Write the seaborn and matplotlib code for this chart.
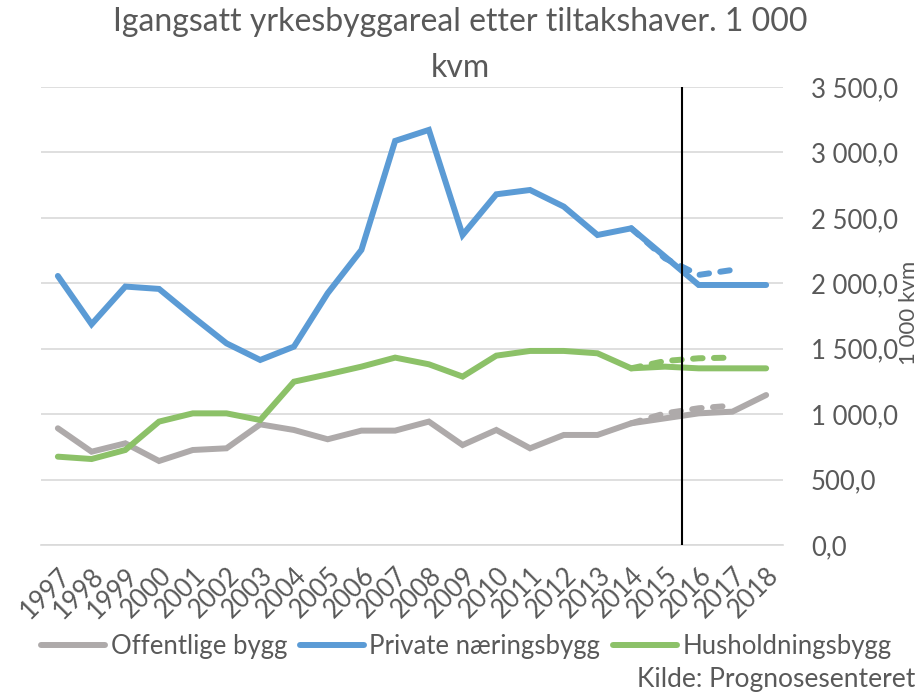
import pandas as pd
import numpy as np
import matplotlib
matplotlib.use("Agg")
import matplotlib.pyplot as plt
import seaborn as sns
from matplotlib.ticker import FuncFormatter, FixedLocator

years = [str(y) for y in range(1997, 2019)]

offentlige = [892, 713, 777, 642, 726, 739, 922, 879, 808, 874, 874,
              943, 764, 879, 739, 841, 841, 930, 968, 1006, 1019, 1146]
private = [2056, 1687, 1975, 1957, 1745, 1541, 1414, 1516, 1924, 2255, 3088,
           3172, 2369, 2680, 2713, 2586, 2369, 2420, 2204, 1987, 1987, 1987]
husholdning = [675, 657, 726, 943, 1006, 1006, 955, 1248, 1304, 1363, 1432,
               1381, 1287, 1447, 1483, 1483, 1465, 1350, 1363, 1350, 1350, 1350]

# earlier forecast (dashed), 2014-2017
prog_years = ["2014", "2015", "2016", "2017"]
prog_offentlige = [930, 1006, 1045, 1065]
prog_private = [2420, 2191, 2064, 2102]
prog_husholdning = [1350, 1406, 1427, 1432]

series = ["Offentlige bygg", "Private næringsbygg", "Husholdningsbygg"]
colors = ["#AEAAAA", "#5B9BD5", "#8CC168"]

df = pd.DataFrame({
    "pos": list(range(len(years))) * 3,
    "verdi": offentlige + private + husholdning,
    "serie": [s for s in series for _ in years],
})
p0 = years.index(prog_years[0])
dfp = pd.DataFrame({
    "pos": list(range(p0, p0 + len(prog_years))) * 3,
    "verdi": prog_offentlige + prog_private + prog_husholdning,
    "serie": [s for s in series for _ in prog_years],
})

sns.set_style("white")
plt.rcParams["font.family"] = ["Lato", "DejaVu Sans"]
txt = "#595959"

fig = plt.figure(figsize=(9.2, 6.97), dpi=100)
ax = fig.add_axes([41 / 920, 1 - 545 / 697, 742 / 920, 458 / 697])

sns.lineplot(data=dfp, x="pos", y="verdi", hue="serie", palette=colors, hue_order=series,
             ax=ax, lw=4.3, legend=False, linestyle=(0, (1.6, 1.9)),
             dash_capstyle="round")
sns.lineplot(data=df, x="pos", y="verdi", hue="serie", palette=colors, hue_order=series,
             ax=ax, lw=4.3, solid_capstyle="round", solid_joinstyle="miter")

ax.axvline(18.5, color="black", lw=1.5, zorder=5)

ax.set_xlim(-0.5, len(years) - 0.5)
ax.set_ylim(0, 3500)
ax.set_yticks(np.arange(0, 3501, 500))
ax.yaxis.set_major_formatter(FuncFormatter(lambda v, p: f"{v:,.1f}".replace(",", " ").replace(".", ",")))
ax.yaxis.tick_right()
ax.tick_params(axis="y", length=0, pad=20, labelsize=18.5, labelcolor=txt)
for lab in ax.get_yticklabels():
    lab.set_horizontalalignment("left")
ax.grid(axis="y", color="#D9D9D9", lw=1.2)
ax.grid(axis="x", visible=False)

ax.set_xticks(range(len(years)))
ax.set_xticklabels(years, rotation=45, ha="right", va="top", rotation_mode="anchor")
ax.tick_params(axis="x", length=0, pad=13, labelsize=18.5, labelcolor=txt)
ax.xaxis.set_minor_locator(FixedLocator(np.arange(-0.5, len(years), 1)))
ax.tick_params(axis="x", which="minor", length=6, width=1.2, color="#D9D9D9", direction="out")

for s in ["top", "left", "right"]:
    ax.spines[s].set_visible(False)
ax.spines["bottom"].set_color("#D9D9D9")
ax.spines["bottom"].set_linewidth(1.2)
ax.set_xlabel("")
ax.set_ylabel("")

handles, labels = ax.get_legend_handles_labels()
ax.legend_.remove()
fig.legend(handles, labels, loc="center", bbox_to_anchor=(0.507, 0.072), ncol=3,
           frameon=False, fontsize=18.5, labelcolor=txt, handlelength=2.5,
           handletextpad=0.2, columnspacing=0.5)

fig.text(0.5, 1 - 22 / 697, "Igangsatt yrkesbyggareal etter tiltakshaver. 1 000",
         ha="center", va="center", fontsize=23, color=txt)
fig.text(0.5, 1 - 68 / 697, "kvm", ha="center", va="center", fontsize=23, color=txt)
fig.text(909 / 920, 1 - 313 / 697, "1 000 kvm", rotation=90, ha="center", va="center",
         fontsize=16, color=txt)
fig.text(915 / 920, 1 - 680 / 697, "Kilde: Prognosesenteret", ha="right", va="center",
         fontsize=19, color=txt)

fig.savefig("out.png", dpi=100)
